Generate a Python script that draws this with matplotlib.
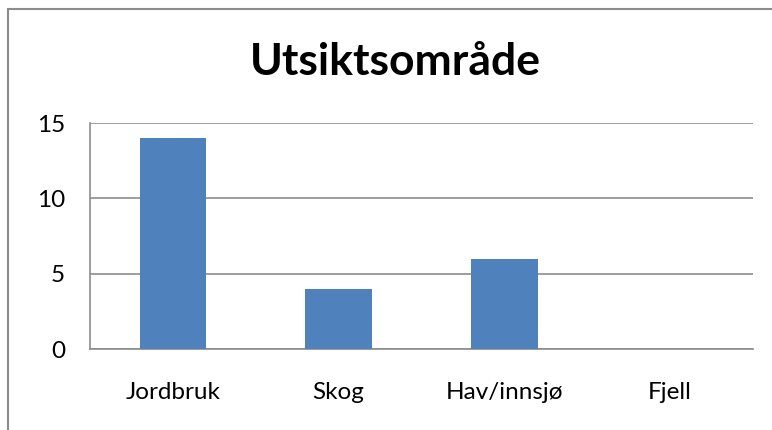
import matplotlib
matplotlib.use('Agg')
import matplotlib.pyplot as plt
from matplotlib.patches import Rectangle

categories = ['Jordbruk', 'Skog', 'Hav/innsjø', 'Fjell']
values = [14, 4, 6, 0]
y_ticks = [0, 5, 10, 15]

plt.rcParams['font.family'] = ['Lato', 'DejaVu Sans']

fig = plt.figure(figsize=(7.72, 4.30), dpi=100)

# chart border (only top and left visible in the crop)
fig.add_artist(Rectangle((8 / 772, -0.1), 1.2, (430 - 9) / 430 + 0.1,
                         transform=fig.transFigure, fill=False,
                         edgecolor='#8c8c8c', linewidth=1.5))

ax = fig.add_axes([90 / 772, 1 - 349 / 430, (753 - 90) / 772, (349 - 123) / 430])
x = range(len(categories))
ax.bar(x, values, width=0.4, color='#4F81BD', zorder=3)

ax.set_xlim(-0.5, len(categories) - 0.5)
ax.set_ylim(0, 15)
ax.set_yticks(y_ticks)
ax.set_xticks(list(x))
ax.set_xticklabels(categories)
ax.grid(axis='y', color='#8c8c8c', linewidth=1.2, zorder=0)
ax.tick_params(axis='both', length=0, labelsize=17.5, colors='black')
ax.tick_params(axis='x', pad=24)
ax.tick_params(axis='y', pad=18)
for s in ['top', 'right']:
    ax.spines[s].set_visible(False)
for s in ['left', 'bottom']:
    ax.spines[s].set_color('#8c8c8c')
    ax.spines[s].set_linewidth(1.2)

fig.text(395 / 772, 1 - 62 / 430, 'Utsiktsområde', ha='center', va='center',
         fontsize=32, fontweight='bold')

fig.savefig('out.png', dpi=100)
